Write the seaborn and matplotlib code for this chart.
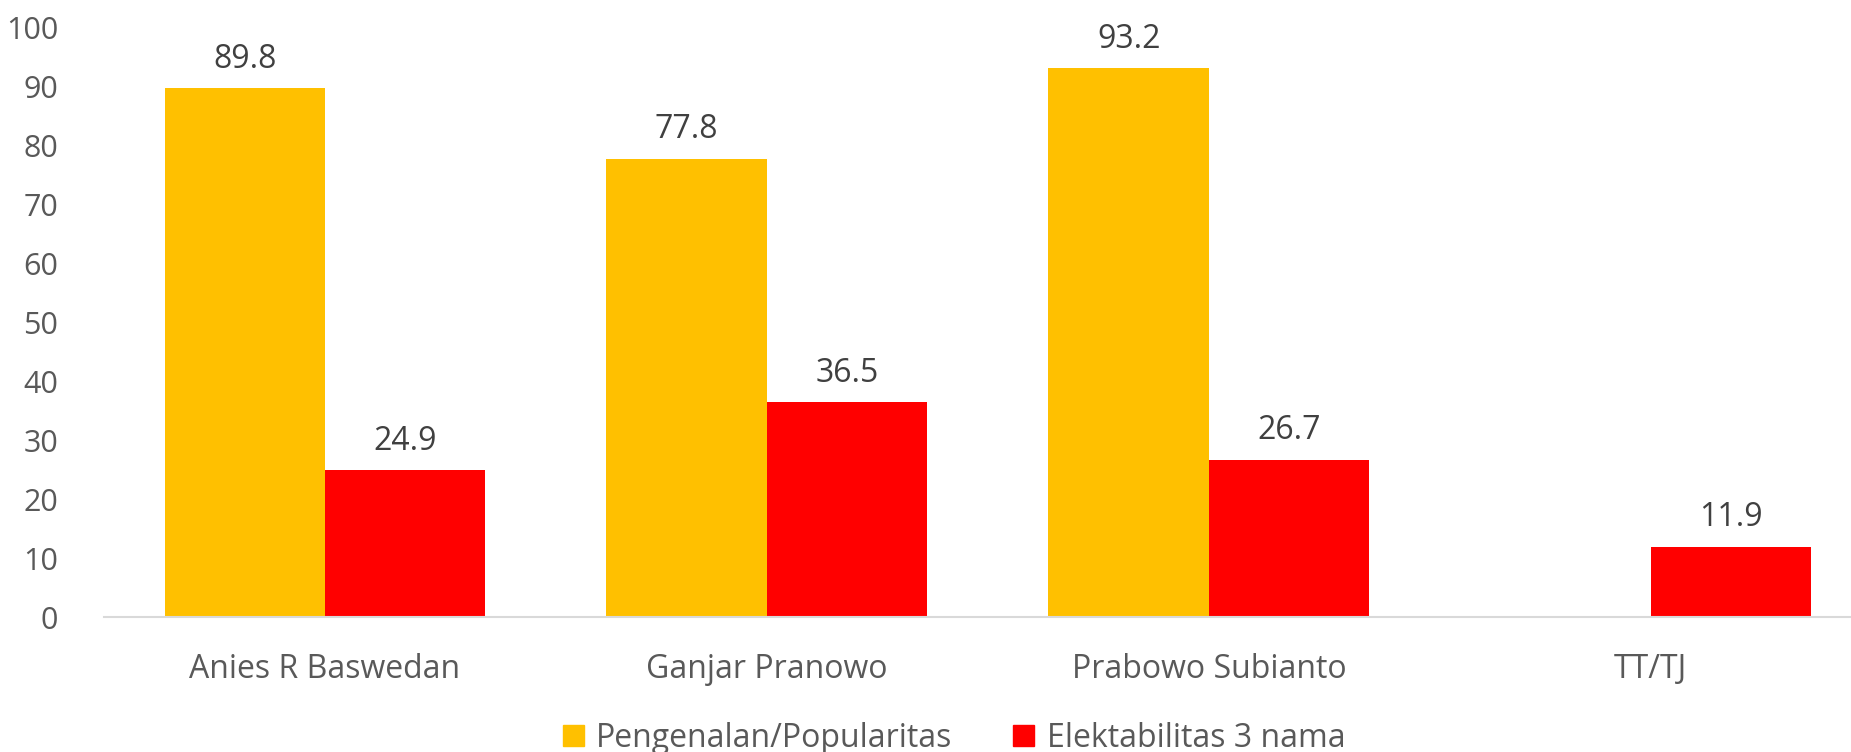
import numpy as np
import pandas as pd
import matplotlib
matplotlib.use('Agg')
import matplotlib.pyplot as plt
import seaborn as sns

# Chart data
candidates = ['Anies R Baswedan', 'Ganjar Pranowo', 'Prabowo Subianto', 'TT/TJ']
popularitas = [89.8, 77.8, 93.2, np.nan]
elektabilitas = [24.9, 36.5, 26.7, 11.9]
series_names = ['Pengenalan/Popularitas', 'Elektabilitas 3 nama']
colors = ['#FFC000', '#FF0000']

df = pd.DataFrame({
    'kandidat': candidates * 2,
    'nilai': popularitas + elektabilitas,
    'seri': [series_names[0]] * 4 + [series_names[1]] * 4,
})

sns.set_theme(style='white')
plt.rcParams['font.family'] = ['Open Sans', 'DejaVu Sans']

fig = plt.figure(figsize=(18.51, 7.52), dpi=100)
# the plot area runs a little past the right edge of the picture
ax = fig.add_axes([0.0562, 0.1795, 0.955, 0.7833])

sns.barplot(data=df, x='kandidat', y='nilai', hue='seri', order=candidates,
            hue_order=series_names, palette=colors, width=0.726, gap=0,
            saturation=1, errorbar=None, linewidth=0, ax=ax, legend=False)

# Value labels on top of bars
for cont in ax.containers:
    ax.bar_label(cont, fmt='%.1f', padding=9, fontsize=23, color='#404040')

ax.set_ylim(0, 100)
ax.set_xlim(-0.5, 3.5)
ax.set_yticks(range(0, 101, 10))
ax.set_xlabel('')
ax.set_ylabel('')
ax.tick_params(axis='both', length=0, labelcolor='#595959')
ax.tick_params(axis='x', labelsize=23, pad=26)
ax.tick_params(axis='y', labelsize=22, pad=33)

for side in ['top', 'right', 'left']:
    ax.spines[side].set_visible(False)
ax.spines['bottom'].set_color('#d9d9d9')
ax.spines['bottom'].set_linewidth(1.5)
ax.grid(False)

# Legend at the bottom
handles = [plt.Rectangle((0, 0), 1, 1, color=c) for c in colors]
leg = fig.legend(handles, series_names, loc='center', bbox_to_anchor=(0.5155, 0.018),
                 ncol=2, frameon=False, fontsize=23, handlelength=0.65, handleheight=0.65,
                 handletextpad=0.4, columnspacing=1.9)
for t in leg.get_texts():
    t.set_color('#595959')

fig.savefig('out.png', dpi=100, facecolor='white')
